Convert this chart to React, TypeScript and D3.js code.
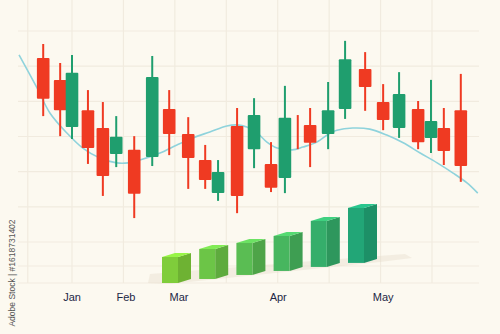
import React from "react";
import * as d3 from "d3";

// ---- data ----
// time position of each candle (day units, 10 per grid column)
const candleDays = [-5.6, -2.3, 0, 3.1, 6.0, 8.6, 12.1, 15.6, 18.9, 22.6, 25.9, 28.4, 32.1, 35.4, 38.7, 41.4, 43.9, 46.3, 49.8, 53.1, 57.0, 60.5, 63.6, 67.3, 69.8, 72.3, 75.6];
const opens = [152.3, 146.1, 132.7, 137.5, 132.4, 125.0, 126.2, 124.2, 137.8, 130.7, 123.3, 113.9, 133.0, 126.4, 122.2, 118.2, 131.0, 133.3, 130.7, 137.8, 149.2, 139.8, 132.4, 137.8, 129.6, 132.4, 137.5];
const closes = [140.7, 137.5, 148.1, 126.7, 118.8, 129.9, 113.7, 146.9, 130.7, 123.9, 117.6, 119.9, 113.1, 136.1, 115.4, 135.3, 131.0, 128.2, 137.5, 152.0, 144.1, 134.7, 142.1, 128.4, 134.4, 125.9, 121.6];
const highs = [156.3, 150.9, 153.2, 143.2, 139.8, 135.8, 130.1, 152.9, 143.2, 135.5, 127.6, 123.3, 138.1, 140.9, 128.4, 144.4, 136.1, 138.1, 145.5, 157.2, 154.0, 144.9, 148.3, 140.1, 146.1, 138.1, 147.8];
const lows = [135.8, 130.1, 129.3, 122.2, 113.1, 121.3, 106.8, 121.6, 124.7, 115.1, 115.1, 111.7, 108.2, 121.0, 114.2, 113.9, 126.4, 121.3, 126.4, 135.0, 137.3, 131.8, 129.6, 126.4, 125.3, 121.9, 117.1];

// smooth average line samples
const maDays = [-10.3, -6.8, -4.3, -1.0, 2.1, 5.4, 8.7, 10.9, 13.2, 17.1, 20.4, 23.5, 26.8, 30.1, 32.1, 34.0, 36.0, 37.9, 39.9, 42.8, 44.9, 47.6, 50.2, 51.5, 54.6, 57.9, 61.2, 64.4, 67.7, 71.0, 74.1, 76.8, 78.9];
const maValues = [153.2, 143.8, 136.7, 131.0, 126.7, 123.9, 122.5, 122.5, 123.3, 125.3, 127.6, 129.6, 131.3, 133.0, 133.3, 132.7, 131.0, 128.4, 126.7, 126.2, 127.0, 128.4, 131.0, 131.8, 132.4, 132.1, 130.4, 128.2, 125.3, 122.5, 119.6, 116.8, 113.9];

// 3D volume-style bars
const barValues = [2.6, 3.0, 3.2, 3.5, 4.6, 5.5];

// axis
const months = ["Jan", "Feb", "Mar", "Apr", "May"];
const monthDays = [0, 10.5, 20.8, 40.1, 60.5];
const gridDays = [-8.6, 0, 10, 20, 30, 40, 50, 60, 70];
const gridPrices = [160, 150, 140, 130, 120, 110, 100];

const W = 500;
const H = 334;

export default function App() {
  const x = d3.scaleLinear().domain([0, 70]).range([72, 432]);
  const y = d3.scaleLinear().domain([100, 160]).range([242, 31]);

  const red = "#ef3a22";
  const green = "#1f9e6e";
  const gridColor = "#f1ebdf";

  const maLine = d3
    .line<number>()
    .x((_, i) => x(maDays[i]))
    .y((v) => y(v))
    .curve(d3.curveCatmullRom.alpha(0.5));

  // bars
  const barX = d3.scaleLinear().domain([0, barValues.length - 1]).range([162, 348]);
  const barH = d3.scaleLinear().domain([0, 6]).range([0, 60]);
  const baseY = (px: number) => 283 - 0.108 * (px - 162);
  const barColor = d3
    .scaleLinear<string>()
    .domain([0, barValues.length - 1])
    .range(["#7fcd3b", "#22a677"])
    .interpolate(d3.interpolateRgb);
  const fw = 16;
  const dx = 13;
  const dy = 4;

  const bottomLines = [266, 283];

  return (
    <svg
      width={W}
      height={H}
      style={{ position: "fixed", left: 0, top: 0, background: "#fcf9f0" }}
      fontFamily="'Liberation Sans', Arial, sans-serif"
    >
      <rect width={W} height={H} fill="#fcf9f0" />
      {/* grid */}
      {gridDays.map((d, i) => (
        <line key={"v" + i} x1={x(d)} x2={x(d)} y1={0} y2={283} stroke={gridColor} strokeWidth={1.2} />
      ))}
      {gridPrices.map((p, i) => (
        <line key={"h" + i} x1={18} x2={479} y1={y(p)} y2={y(p)} stroke={gridColor} strokeWidth={1.2} />
      ))}
      {bottomLines.map((yy, i) => (
        <line key={"b" + i} x1={18} x2={479} y1={yy} y2={yy} stroke={gridColor} strokeWidth={1.2} />
      ))}

      {/* average line */}
      <path d={maLine(maValues) || ""} fill="none" stroke="#8fd3dc" strokeWidth={1.6} />

      {/* candles */}
      {candleDays.map((d, i) => {
        const up = closes[i] > opens[i];
        const c = up ? green : red;
        const cx = x(d);
        const top = y(Math.max(opens[i], closes[i]));
        const bot = y(Math.min(opens[i], closes[i]));
        return (
          <g key={"c" + i}>
            <line x1={cx} x2={cx} y1={y(highs[i])} y2={y(lows[i])} stroke={c} strokeWidth={2} />
            {bot - top > 0.5 && (
              <rect x={cx - 6.3} y={top} width={12.6} height={bot - top} rx={1} fill={c} />
            )}
          </g>
        );
      })}

      {/* floor shadow */}
      <polygon
        points={`148,283 150,274 300,262 405,254 412,258 380,262 170,284`}
        fill="#e6dccb"
        opacity={0.4}
      />

      {/* 3D bars */}
      {barValues.map((v, i) => {
        const x0 = barX(i);
        const yb = baseY(x0);
        const yt = yb - barH(v);
        const col = barColor(i);
        const side = d3.color(col)!.darker(0.4).toString();
        const topc = d3.color(col)!.brighter(0.5).toString();
        return (
          <g key={"bar" + i}>
            <polygon
              points={`${x0 + fw},${yt} ${x0 + fw + dx},${yt - dy} ${x0 + fw + dx},${yb - dy} ${x0 + fw},${yb}`}
              fill={side}
            />
            <rect x={x0} y={yt} width={fw} height={yb - yt} fill={col} />
            <polygon
              points={`${x0},${yt} ${x0 + fw},${yt} ${x0 + fw + dx},${yt - dy} ${x0 + dx},${yt - dy}`}
              fill={topc}
            />
          </g>
        );
      })}

      {/* month labels */}
      {months.map((m, i) => (
        <text key={m} x={x(monthDays[i])} y={301} textAnchor="middle" fontSize={11} fill="#1c2745">
          {m}
        </text>
      ))}

      {/* side credit */}
      <text
        transform="translate(15,273) rotate(-90)"
        textAnchor="middle"
        fontSize={8.5}
        fill="#555"
      >
        Adobe Stock | #1618731402
      </text>
    </svg>
  );
}
